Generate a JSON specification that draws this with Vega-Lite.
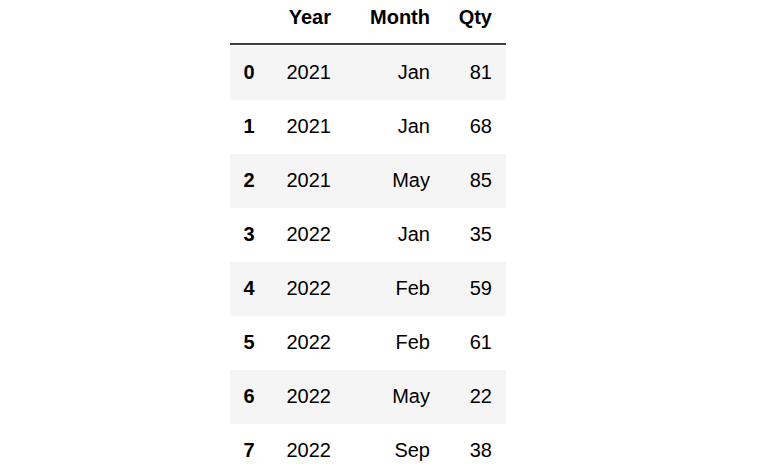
{
  "$schema": "https://vega.github.io/schema/vega-lite/v6.json",
  "width": 780,
  "height": 476,
  "padding": 0,
  "autosize": {"type": "fit", "contains": "padding"},
  "config": {"view": {"stroke": null}, "text": {"font": "Liberation Sans", "fontSize": 20, "baseline": "middle", "color": "#000"}},
  "data": {
    "values": [
      {"idx": 0, "Year": "2021", "Month": "Jan", "Qty": 81},
      {"idx": 1, "Year": "2021", "Month": "Jan", "Qty": 68},
      {"idx": 2, "Year": "2021", "Month": "May", "Qty": 85},
      {"idx": 3, "Year": "2022", "Month": "Jan", "Qty": 35},
      {"idx": 4, "Year": "2022", "Month": "Feb", "Qty": 59},
      {"idx": 5, "Year": "2022", "Month": "Feb", "Qty": 61},
      {"idx": 6, "Year": "2022", "Month": "May", "Qty": 22},
      {"idx": 7, "Year": "2022", "Month": "Sep", "Qty": 38}
    ]
  },
  "encoding": {
    "y": {"field": "idx", "type": "ordinal", "axis": null, "scale": {"type": "band", "range": [46, 478], "paddingInner": 0, "paddingOuter": 0}}
  },
  "layer": [
    {
      "transform": [{"filter": "datum.idx % 2 == 0"}],
      "mark": {"type": "rect", "color": "#f5f5f5"},
      "encoding": {"x": {"value": 230}, "x2": {"value": 506}}
    },
    {
      "mark": {"type": "text", "align": "center", "fontWeight": "bold"},
      "encoding": {"x": {"value": 249}, "text": {"field": "idx"}}
    },
    {
      "mark": {"type": "text", "align": "right"},
      "encoding": {"x": {"value": 331}, "text": {"field": "Year"}}
    },
    {
      "mark": {"type": "text", "align": "right"},
      "encoding": {"x": {"value": 430}, "text": {"field": "Month"}}
    },
    {
      "mark": {"type": "text", "align": "right"},
      "encoding": {"x": {"value": 492}, "text": {"field": "Qty"}}
    },
    {
      "data": {"values": [{"h": "Year", "x": 331}, {"h": "Month", "x": 430}, {"h": "Qty", "x": 492}]},
      "mark": {"type": "text", "align": "right", "fontWeight": "bold"},
      "encoding": {"x": {"field": "x", "type": "quantitative", "scale": {"domain": [0, 780], "range": [0, 780]}, "axis": null}, "y": {"value": 18}, "text": {"field": "h"}}
    },
    {
      "data": {"values": [{}]},
      "mark": {"type": "rule", "color": "#000", "strokeWidth": 1.5},
      "encoding": {"x": {"value": 230}, "x2": {"value": 506}, "y": {"value": 44}}
    }
  ]
}
